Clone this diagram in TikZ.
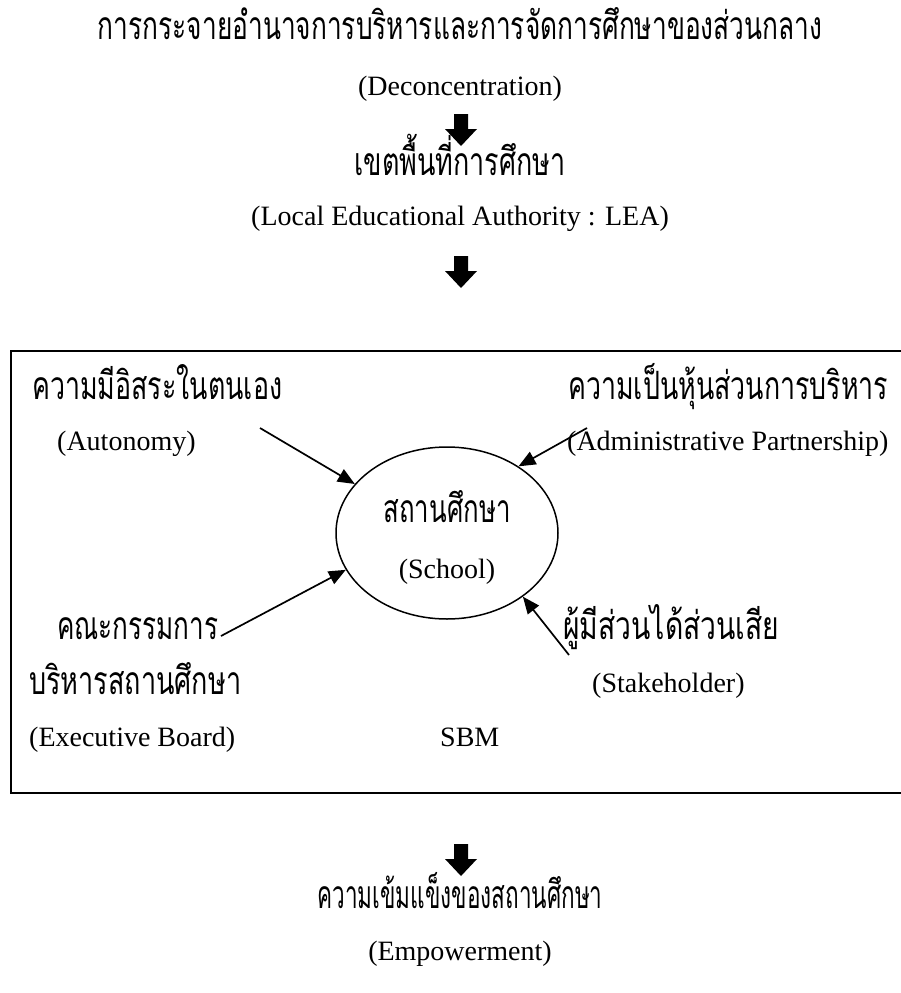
\documentclass[tikz,border=0pt]{standalone}
\usepackage{fontspec}
\setmainfont{Liberation Serif}
\newfontfamily\thaifont[Script=Thai]{Loma}
\usetikzlibrary{arrows.meta,shapes.geometric}
% Thai text squeezed horizontally to a given width, height kept
\newcommand{\thw}[2]{\resizebox{#1}{\height}{\thaifont #2}}

\begin{document}
\begin{tikzpicture}[x=1pt,y=-1pt,
  txt/.style={inner sep=0pt, font=\fontsize{28}{32}\selectfont},
  thtxt/.style={inner sep=0pt, font=\fontsize{39}{44}\selectfont},
  conn/.style={line width=1.7pt, -{Triangle[length=17pt,width=14pt]}},
  frame/.style={line width=2pt},
  blockdown/.pic={\fill (-7,-16) -- (7,-16) -- (7,-1) -- (16,-1) -- (0,16) -- (-16,-1) -- (-7,-1) -- cycle;}
]
\useasboundingbox (0,0) rectangle (901,993);

% top of the chain
\node[thtxt, anchor=base] (title) at (460,39) {\thw{724pt}{การกระจายอำนาจการบริหารและการจัดการศึกษาของส่วนกลาง}};
\node[txt, anchor=base] (decon) at (460,95) {(Deconcentration)};
\pic at (461,130) {blockdown};
\node[thtxt, anchor=base] (lea-th) at (460,175) {\thw{211pt}{เขตพื้นที่การศึกษา}};
\node[txt, anchor=base] (lea) at (460,225) {(Local Educational Authority : LEA)};
\pic at (461,272) {blockdown};

% SBM frame, open on the right
\draw[frame] (901,351) -- (11,351) -- (11,793) -- (901,793);

% the school and its four inputs
\node[draw, ellipse, line width=1.5pt, minimum width=222pt, minimum height=172pt, inner sep=0pt] (school) at (447,533) {};
\node[thtxt, anchor=base] (school-th) at (447,522) {\thw{127pt}{สถานศึกษา}};
\node[txt, anchor=base] (school-en) at (447,578) {(School)};

\node[thtxt, anchor=base west] (auto-th) at (32,399) {\thw{250pt}{ความมีอิสระในตนเอง}};
\node[txt, anchor=base west] (auto) at (57,450) {(Autonomy)};
\node[thtxt, anchor=base west] (part-th) at (568,399) {\thw{320pt}{ความเป็นหุ้นส่วนการบริหาร}};
\node[txt, anchor=base west] (part) at (567,450) {(Administrative Partnership)};
\node[thtxt, anchor=base west] (board-th1) at (57,639) {\thw{161pt}{คณะกรรมการ}};
\node[thtxt, anchor=base west] (board-th2) at (29,694) {\thw{212pt}{บริหารสถานศึกษา}};
\node[txt, anchor=base west] (board) at (29,746) {(Executive Board)};
\node[txt, anchor=base west] (sbm) at (440,746) {SBM};
\node[thtxt, anchor=base west] (stake-th) at (563,639) {\thw{216pt}{ผู้มีส่วนได้ส่วนเสีย}};
\node[txt, anchor=base west] (stake) at (592,692) {(Stakeholder)};

\coordinate (auto-src) at (260,428);
\coordinate (part-src) at (587,428);
\coordinate (board-src) at (221,636);
\coordinate (stake-src) at (569,655);
\draw[conn] (auto-src) -- (school.152);
\draw[conn] (part-src) -- (school.43);
\draw[conn] (board-src) -- (school.200);
\draw[conn] (stake-src) -- (school.-40);

% result
\pic at (461,860) {blockdown};
\node[thtxt, anchor=base] (emp-th) at (460,908) {\thw{285pt}{ความเข้มแข็งของสถานศึกษา}};
\node[txt, anchor=base] (emp) at (460,960) {(Empowerment)};
\end{tikzpicture}
\end{document}
